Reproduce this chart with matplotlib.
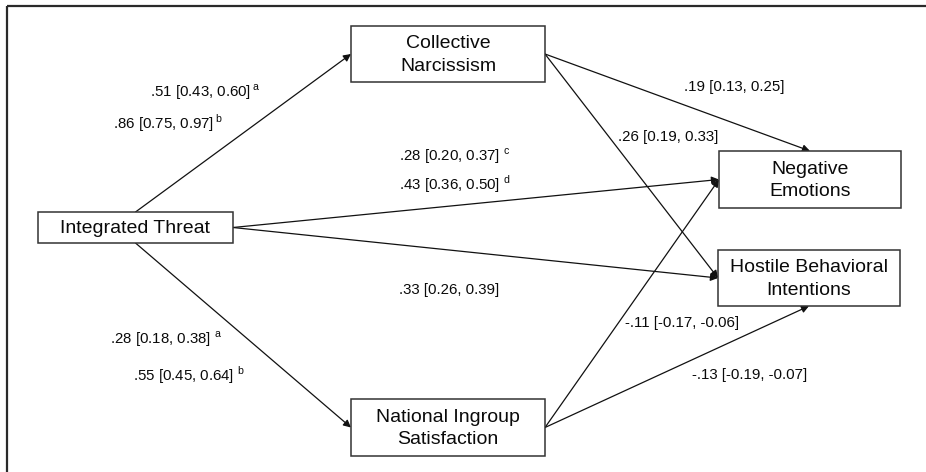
import matplotlib.pyplot as plt
from matplotlib.patches import Rectangle

plt.rcParams['font.family'] = ['Liberation Sans', 'DejaVu Sans']
plt.rcParams['mathtext.fontset'] = 'custom'
plt.rcParams['mathtext.rm'] = 'Liberation Sans'

# nodes of the path model
nodes = ['Integrated Threat', 'Collective\nNarcissism', 'National Ingroup\nSatisfaction',
         'Negative\nEmotions', 'Hostile Behavioral\nIntentions']

# paths: (from, side, to, side)
path_from = [0, 0, 0, 0, 1, 1, 2, 2]
path_from_side = ['top', 'bottom', 'right', 'right', 'right', 'right', 'right', 'right']
path_to = [1, 2, 3, 4, 3, 4, 3, 4]
path_to_side = ['left', 'left', 'left', 'left', 'top', 'left', 'left', 'bottom']

# coefficient labels [95% CI]
coef_labels = [
    '.51 [0.43, 0.60]$\\,^{\\rm a}$',
    '.86 [0.75, 0.97]$\\,^{\\rm b}$',
    '.19 [0.13, 0.25]',
    '.26 [0.19, 0.33]',
    '.28 [0.20, 0.37] $^{\\rm c}$',
    '.43 [0.36, 0.50] $^{\\rm d}$',
    '.33 [0.26, 0.39]',
    '.28 [0.18, 0.38] $^{\\rm a}$',
    '.55 [0.45, 0.64] $^{\\rm b}$',
    '-.11 [-0.17, -0.06]',
    '-.13 [-0.19, -0.07]',
]

# layout (pixels), boxes as x0, y0, x1, y1
boxes = [(38, 212, 233, 243), (351, 26, 545, 82), (351, 399, 545, 456),
         (719, 151, 901, 208), (718, 250, 900, 306)]
label_pos = [(150, 92), (113, 123), (684, 87), (618, 137), (399, 156), (399, 184),
             (399, 290), (110, 339), (133, 375), (625, 323), (692, 375)]


def anchor(i, side):
    x0, y0, x1, y1 = boxes[i]
    if side == 'top':
        return ((x0 + x1) / 2, y0)
    if side == 'bottom':
        return ((x0 + x1) / 2, y1)
    if side == 'left':
        return (x0, (y0 + y1) / 2)
    return (x1, (y0 + y1) / 2)


fig = plt.figure(figsize=(9.26, 4.72), dpi=100)
ax = fig.add_axes([0, 0, 1, 1])
ax.set_xlim(0, 926)
ax.set_ylim(472, 0)
ax.axis('off')

# outer frame (runs off the right and bottom edge)
ax.add_patch(Rectangle((7, 6), 1000, 1000, fill=False, lw=1.6, ec='#2a2a2a'))

# boxes
for name, (x0, y0, x1, y1) in zip(nodes, boxes):
    ax.add_patch(Rectangle((x0, y0), x1 - x0, y1 - y0, fill=True, fc='white',
                           lw=1.1, ec='#333333', zorder=3))
    ax.text((x0 + x1) / 2, (y0 + y1) / 2 + 1, name, ha='center', va='center',
            fontsize=14, color='#0a0a0a', zorder=4, linespacing=1.42)

# arrows
for f, fs, t, ts in zip(path_from, path_from_side, path_to, path_to_side):
    ax.annotate('', xy=anchor(t, ts), xytext=anchor(f, fs),
                arrowprops=dict(arrowstyle='-|>', lw=0.9, color='#111111',
                                mutation_scale=11, shrinkA=0, shrinkB=0),
                zorder=2)

# coefficient labels
for txt, (x, y) in zip(coef_labels, label_pos):
    ax.text(x, y, txt, ha='left', va='center', fontsize=10.8, color='#0a0a0a')

fig.savefig('out.png', dpi=100, facecolor='white')
